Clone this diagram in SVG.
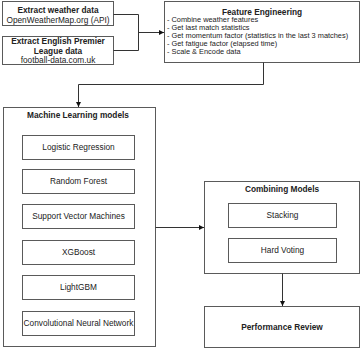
<svg xmlns="http://www.w3.org/2000/svg" width="361" height="349" viewBox="0 0 361 349">
<defs>
<marker id="arr" viewBox="0 0 6 6" refX="6" refY="3" markerWidth="5" markerHeight="5" orient="auto" markerUnits="userSpaceOnUse">
<path d="M0,0 L6,3 L0,6 z" fill="#111"/>
</marker>
<style>
rect{fill:#fff;stroke:#5a5a5a;stroke-width:1}
text{font-family:"Liberation Sans",Arial,sans-serif;font-size:8.3px;fill:#222}
.b{font-weight:bold}
.c{text-anchor:middle}
.s{font-size:7.4px}
.e{fill:none;stroke:#333;stroke-width:1}
</style>
</defs>
<rect x="0" y="0" width="361" height="349" style="fill:#fff;stroke:none"/>
<g id="weather">
<rect x="2.5" y="1.5" width="111" height="24"/>
<text class="b c" x="58" y="13">Extract weather data</text>
<text class="c" x="58" y="23">OpenWeatherMap.org (API)</text>
</g>
<g id="epl">
<rect x="2.5" y="36.5" width="111" height="28"/>
<text class="b c" x="58" y="44">Extract English Premier</text>
<text class="b c" x="58" y="54">League data</text>
<text class="c" x="58" y="63">football-data.com.uk</text>
</g>
<g id="feature">
<rect x="164.5" y="1.5" width="195" height="61"/>
<text class="b c" x="262" y="14.5">Feature Engineering</text>
<text class="s" x="167" y="22">- Combine weather features</text>
<text class="s" x="167" y="30">- Get last match statistics</text>
<text class="s" x="167" y="38">- Get momentum factor (statistics in the last 3 matches)</text>
<text class="s" x="167" y="46">- Get fatigue factor (elapsed time)</text>
<text class="s" x="167" y="54">- Scale &amp; Encode data</text>
</g>
<g id="ml">
<rect x="3.5" y="107.5" width="152" height="239"/>
<text class="b c" x="78" y="118">Machine Learning models</text>
</g>
<g id="lr"><rect x="22.5" y="135.5" width="112" height="24"/><text class="c" x="78.5" y="150">Logistic Regression</text></g>
<g id="rf"><rect x="22.5" y="169.5" width="112" height="24"/><text class="c" x="78.5" y="184">Random Forest</text></g>
<g id="svm"><rect x="22.5" y="204.5" width="112" height="24"/><text class="c" x="78.5" y="219">Support Vector Machines</text></g>
<g id="xgb"><rect x="22.5" y="240.5" width="112" height="24"/><text class="c" x="78.5" y="255">XGBoost</text></g>
<g id="lgbm"><rect x="22.5" y="275.5" width="112" height="24"/><text class="c" x="78.5" y="290">LightGBM</text></g>
<g id="cnn"><rect x="22.5" y="311.5" width="112" height="24"/><text class="c" x="78.5" y="326">Convolutional Neural Network</text></g>
<g id="combining">
<rect x="204.5" y="181.5" width="155" height="92"/>
<text class="b c" x="282" y="192">Combining Models</text>
</g>
<g id="stacking"><rect x="228.5" y="203.5" width="108" height="24"/><text class="c" x="282.5" y="218">Stacking</text></g>
<g id="voting"><rect x="228.5" y="238.5" width="108" height="24"/><text class="c" x="282.5" y="253">Hard Voting</text></g>
<g id="review">
<rect x="204.5" y="306.5" width="155" height="41"/>
<text class="b c" x="282" y="330">Performance Review</text>
</g>
<g id="connectors">
<path class="e" d="M113.5,14.5 H138.5 V50.5 H113.5" />
<path class="e" d="M138.5,32.5 H164" marker-end="url(#arr)"/>
<path class="e" d="M263.5,62.5 V84.5 H78.5 V107" marker-end="url(#arr)"/>
<path class="e" d="M155.5,227.5 H204" marker-end="url(#arr)"/>
<path class="e" d="M282.5,273.5 V306" marker-end="url(#arr)"/>
</g>
</svg>
